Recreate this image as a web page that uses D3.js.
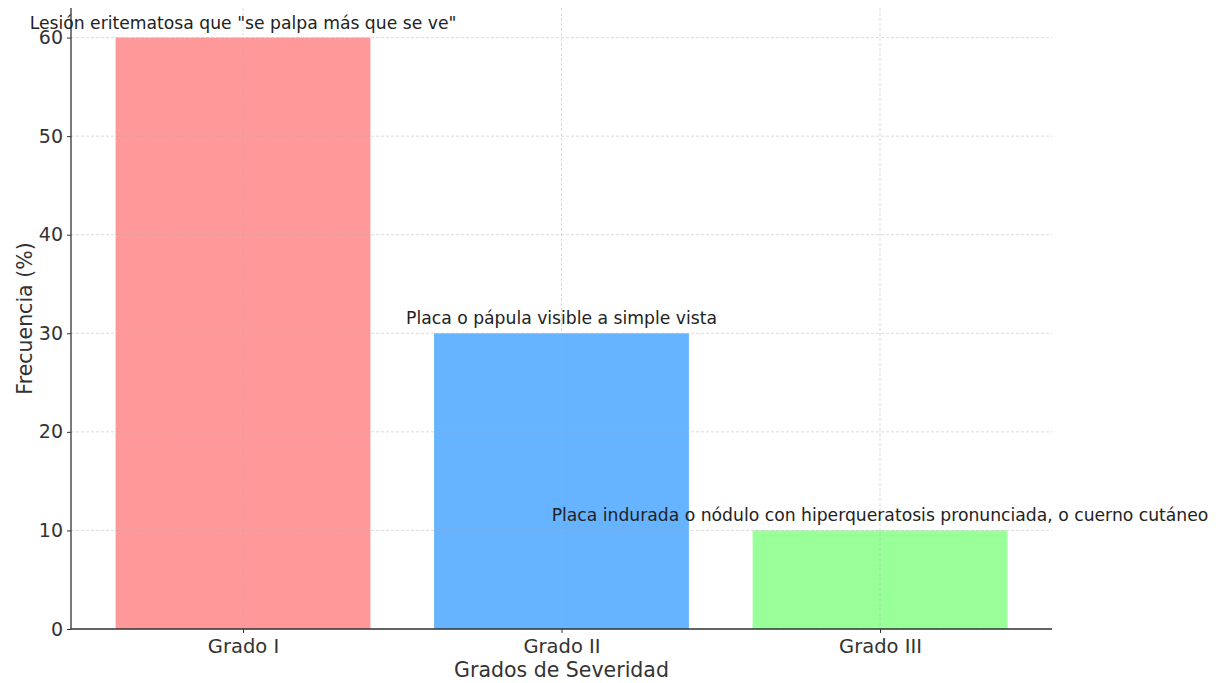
<!DOCTYPE html>
<html>
  <head>
    <title>Grados de Severidad</title>
    <script src="https://d3js.org/d3.v7.min.js"></script>
    <style>
    body { margin: 0; background: white; }
    text { font-family: "DejaVu Sans", sans-serif; }
    </style>
  </head>
  <body>
      <script>
          var width = 1218;
          var height = 683;
          var margin = {top: 8, right: 166, bottom: 54, left: 71};

          // data
          var grados = ["Grado I", "Grado II", "Grado III"];
          var frecuencia = [60, 30, 10];
          var descripciones = ["Lesión eritematosa que \"se palpa más que se ve\"",
                               "Placa o pápula visible a simple vista",
                               "Placa indurada o nódulo con hiperqueratosis pronunciada, o cuerno cutáneo"];
          var colores = ["#ff9999", "#66b3ff", "#99ff99"];
          var yTicks = [0, 10, 20, 30, 40, 50, 60];

          var svg = d3.select("body")
                      .append("svg")
                      .attr("width", width)
                      .attr("height", height)

          var plotW = width - margin.left - margin.right;
          var plotH = height - margin.top - margin.bottom;

          // matplotlib-like limits: index -0.54 .. 2.54, y 0 .. 63
          var x = d3.scaleLinear().domain([-0.54, grados.length - 1 + 0.54]).range([0, plotW]);
          var y = d3.scaleLinear().domain([0, 63]).range([plotH, 0]);
          var barW = x(0.8) - x(0);

          var g = svg.append("g")
              .attr("transform", "translate(" + margin.left + "," + margin.top + ")")

          // bars
          g.selectAll("rect.bar")
              .data(frecuencia)
              .enter()
              .append("rect")
              .attr("class", "bar")
              .attr("x", function(d, i){ return x(i) - barW / 2; })
              .attr("y", function(d){ return y(d); })
              .attr("width", barW)
              .attr("height", function(d){ return plotH - y(d); })
              .attr("fill", function(d, i){ return colores[i]; })

          // grid on top of bars
          g.selectAll("line.hgrid")
              .data(yTicks)
              .enter()
              .append("line")
              .attr("x1", 0).attr("x2", plotW)
              .attr("y1", function(d){ return y(d); })
              .attr("y2", function(d){ return y(d); })
              .attr("stroke", "#b0b0b0")
              .attr("stroke-opacity", 0.45)
              .attr("stroke-dasharray", "3,2")

          g.selectAll("line.vgrid")
              .data(grados)
              .enter()
              .append("line")
              .attr("x1", function(d, i){ return x(i); })
              .attr("x2", function(d, i){ return x(i); })
              .attr("y1", 0).attr("y2", plotH)
              .attr("stroke", "#b0b0b0")
              .attr("stroke-opacity", 0.45)
              .attr("stroke-dasharray", "3,2")

          // axes
          var yAxis = d3.axisLeft(y).tickValues(yTicks).tickSize(4).tickPadding(4);
          var xAxis = d3.axisBottom(x).tickValues(d3.range(grados.length))
                        .tickFormat(function(i){ return grados[i]; })
                        .tickSize(4).tickPadding(6);

          var ya = g.append("g").call(yAxis)
          var xa = g.append("g").attr("transform", "translate(0," + plotH + ")").call(xAxis)

          ya.select(".domain").attr("d", "M0,0V" + plotH).attr("stroke", "#333").attr("stroke-width", 1.3)
          xa.select(".domain").attr("d", "M0,0H" + plotW).attr("stroke", "#333").attr("stroke-width", 1.3)
          ya.selectAll(".tick line").attr("stroke", "#333")
          xa.selectAll(".tick line").attr("stroke", "#333")
          ya.selectAll(".tick text").attr("font-size", "19px").attr("fill", "#333").attr("font-family", "DejaVu Sans")
          xa.selectAll(".tick text").attr("font-size", "19.5px").attr("fill", "#333").attr("font-family", "DejaVu Sans")

          // labels
          svg.append("text")
              .attr("transform", "translate(" + (margin.left + plotW / 2) + ",677)")
              .attr("text-anchor", "middle")
              .attr("font-size", "20.5px")
              .attr("fill", "#333")
              .text("Grados de Severidad")

          svg.append("text")
              .attr("transform", "translate(32," + (margin.top + plotH / 2) + ") rotate(-90)")
              .attr("text-anchor", "middle")
              .attr("font-size", "20.5px")
              .attr("fill", "#333")
              .text("Frecuencia (%)")

          // annotations above bars
          g.selectAll("text.anno")
              .data(frecuencia)
              .enter()
              .append("text")
              .attr("class", "anno")
              .attr("x", function(d, i){ return x(i); })
              .attr("y", function(d){ return y(d) - 9; })
              .attr("text-anchor", "middle")
              .attr("font-size", "17.2px")
              .attr("fill", "#222")
              .text(function(d, i){ return descripciones[i]; })

      </script>
  </body>
</html>
